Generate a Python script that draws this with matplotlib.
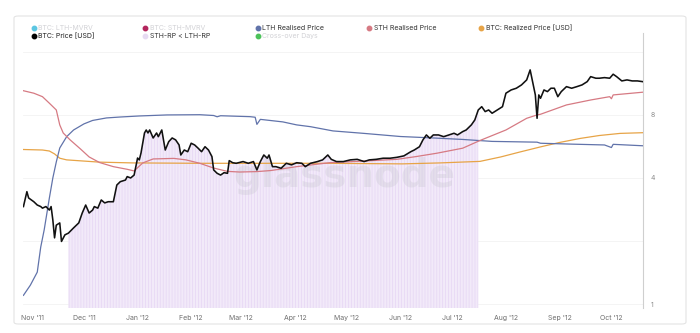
import matplotlib
matplotlib.use("Agg")
import matplotlib.pyplot as plt
from matplotlib.patches import FancyBboxPatch
from matplotlib.lines import Line2D
from matplotlib.ticker import FixedLocator, NullFormatter
import pandas as pd

# ---------------- data ----------------
price_dates = [
    "2011-10-27", "2011-10-29", "2011-10-30", "2011-11-02", "2011-11-04", "2011-11-06",
    "2011-11-07", "2011-11-09", "2011-11-11", "2011-11-12", "2011-11-13", "2011-11-14",
    "2011-11-15", "2011-11-17", "2011-11-18", "2011-11-20", "2011-11-22", "2011-11-25",
    "2011-11-28", "2011-11-30", "2011-12-02", "2011-12-04", "2011-12-06", "2011-12-07",
    "2011-12-09", "2011-12-11", "2011-12-13", "2011-12-15", "2011-12-18", "2011-12-20",
    "2011-12-22", "2011-12-25", "2011-12-26", "2011-12-28", "2011-12-30", "2012-01-01",
    "2012-01-02", "2012-01-03", "2012-01-05", "2012-01-06", "2012-01-07", "2012-01-08",
    "2012-01-10", "2012-01-12", "2012-01-13", "2012-01-15", "2012-01-16", "2012-01-17",
    "2012-01-19", "2012-01-21", "2012-01-23", "2012-01-25", "2012-01-26", "2012-01-28",
    "2012-01-30", "2012-02-01", "2012-02-03", "2012-02-05", "2012-02-07", "2012-02-09",
    "2012-02-11", "2012-02-13", "2012-02-14", "2012-02-16", "2012-02-18", "2012-02-20",
    "2012-02-22", "2012-02-23", "2012-02-25", "2012-02-27", "2012-03-02", "2012-03-05",
    "2012-03-08", "2012-03-10", "2012-03-12", "2012-03-14", "2012-03-16", "2012-03-17",
    "2012-03-19", "2012-03-21", "2012-03-24", "2012-03-27", "2012-03-30", "2012-04-02",
    "2012-04-05", "2012-04-07", "2012-04-10", "2012-04-14", "2012-04-17", "2012-04-20",
    "2012-04-22", "2012-04-25", "2012-04-29", "2012-05-03", "2012-05-07", "2012-05-11",
    "2012-05-14", "2012-05-18", "2012-05-22", "2012-05-26", "2012-05-30", "2012-06-03",
    "2012-06-07", "2012-06-09", "2012-06-12", "2012-06-14", "2012-06-16", "2012-06-18",
    "2012-06-20", "2012-06-23", "2012-06-26", "2012-06-29", "2012-07-02", "2012-07-04",
    "2012-07-07", "2012-07-09", "2012-07-12", "2012-07-14", "2012-07-16", "2012-07-18",
    "2012-07-20", "2012-07-22", "2012-07-24", "2012-07-27", "2012-07-30", "2012-08-01",
    "2012-08-04", "2012-08-07", "2012-08-10", "2012-08-13", "2012-08-14", "2012-08-15",
    "2012-08-16", "2012-08-18", "2012-08-19", "2012-08-20", "2012-08-21", "2012-08-23",
    "2012-08-25", "2012-08-27", "2012-08-29", "2012-08-31", "2012-09-02", "2012-09-05",
    "2012-09-08", "2012-09-11", "2012-09-14", "2012-09-17", "2012-09-19", "2012-09-22",
    "2012-09-24", "2012-09-27", "2012-09-30", "2012-10-02", "2012-10-04", "2012-10-07",
    "2012-10-10", "2012-10-13", "2012-10-16", "2012-10-19",
]
price_usd = [
    2.92, 3.44, 3.21, 3.08, 2.97, 2.92,
    2.87, 2.92, 2.81, 2.92, 2.52, 2.07,
    2.38, 2.44, 1.99, 2.14, 2.18, 2.31,
    2.44, 2.72, 2.97, 2.72, 2.81, 2.92,
    2.87, 3.14, 3.04, 3.08, 3.08, 3.70,
    3.84, 3.91, 4.06, 4.00, 4.13, 4.98,
    4.88, 5.27, 6.56, 6.78, 6.56, 6.78,
    6.21, 6.56, 6.30, 6.78, 6.08, 5.44,
    5.96, 6.21, 6.08, 5.75, 5.15, 5.44,
    5.34, 5.86, 5.75, 5.55, 5.34, 5.64,
    5.44, 5.06, 4.37, 4.21, 4.13, 4.24,
    4.21, 4.84, 4.73, 4.70, 4.79, 4.70,
    4.79, 4.37, 4.79, 5.15, 4.97, 5.15,
    4.53, 4.53, 4.45, 4.70, 4.62, 4.73,
    4.70, 4.53, 4.70, 4.79, 4.88, 5.15,
    4.91, 4.79, 4.79, 4.88, 4.91, 4.79,
    4.88, 4.91, 4.97, 4.97, 5.02, 5.10,
    5.34, 5.44, 5.64, 6.08, 6.42, 6.19,
    6.42, 6.42, 6.30, 6.42, 6.54, 6.42,
    6.66, 6.78, 7.17, 7.57, 8.45, 8.76,
    8.30, 8.45, 8.15, 8.45, 8.76, 10.16,
    10.53, 10.73, 11.13, 11.76, 12.42, 13.13,
    11.98, 9.97, 7.71, 9.97, 9.61, 10.53,
    10.34, 10.73, 10.73, 9.78, 10.34, 10.92,
    10.73, 10.92, 11.13, 11.54, 12.19, 11.98,
    11.98, 12.06, 11.98, 12.52, 12.19, 11.63,
    11.76, 11.63, 11.63, 11.54,
]

lth_dates = [
    "2011-10-27", "2011-10-31", "2011-11-04", "2011-11-06", "2011-11-08", "2011-11-11",
    "2011-11-13", "2011-11-15", "2011-11-17", "2011-11-21", "2011-11-25", "2011-12-01",
    "2011-12-06", "2011-12-14", "2011-12-22", "2012-01-02", "2012-01-18", "2012-02-06",
    "2012-02-14", "2012-02-16", "2012-02-18", "2012-03-06", "2012-03-09", "2012-03-10",
    "2012-03-12", "2012-03-25", "2012-04-02", "2012-04-10", "2012-04-23", "2012-05-11",
    "2012-06-01", "2012-06-20", "2012-07-07", "2012-07-24", "2012-08-19", "2012-08-21",
    "2012-09-09", "2012-09-27", "2012-10-01", "2012-10-02", "2012-10-19",
]
lth_realised_price = [
    1.10, 1.23, 1.42, 1.87, 2.26, 3.21,
    4.00, 4.77, 5.56, 6.30, 6.78, 7.25,
    7.53, 7.74, 7.82, 7.91, 8.00, 8.02,
    7.95, 7.84, 7.93, 7.85, 7.80, 7.21,
    7.62, 7.41, 7.17, 7.03, 6.71, 6.53,
    6.31, 6.21, 6.11, 5.98, 5.93, 5.86,
    5.80, 5.75, 5.59, 5.79, 5.70,
]

sth_dates = [
    "2011-10-27", "2011-11-02", "2011-11-07", "2011-11-11", "2011-11-15", "2011-11-17",
    "2011-11-19", "2011-11-23", "2011-11-29", "2011-12-04", "2011-12-10", "2011-12-18",
    "2011-12-26", "2011-12-30", "2012-01-04", "2012-01-10", "2012-01-22", "2012-01-29",
    "2012-02-06", "2012-02-14", "2012-02-22", "2012-02-29", "2012-03-10", "2012-03-18",
    "2012-04-02", "2012-04-21", "2012-05-11", "2012-05-30", "2012-06-10", "2012-06-22",
    "2012-07-07", "2012-07-17", "2012-08-01", "2012-08-13", "2012-08-19", "2012-08-21",
    "2012-09-05", "2012-09-19", "2012-09-30", "2012-10-01", "2012-10-02", "2012-10-19",
]
sth_realised_price = [
    10.44, 10.16, 9.78, 9.10, 8.45, 7.17,
    6.56, 6.08, 5.50, 5.04, 4.74, 4.53,
    4.40, 4.32, 4.72, 4.93, 4.96, 4.88,
    4.70, 4.46, 4.30, 4.27, 4.29, 4.34,
    4.53, 4.73, 4.82, 4.91, 5.06, 5.25,
    5.55, 6.04, 6.78, 7.71, 8.00, 8.06,
    8.93, 9.43, 9.78, 9.56, 9.97, 10.27,
]

rp_dates = [
    "2011-10-27", "2011-11-07", "2011-11-11", "2011-11-14", "2011-11-17", "2011-11-21",
    "2011-12-10", "2011-12-29", "2012-02-06", "2012-03-16", "2012-04-21", "2012-06-02",
    "2012-06-24", "2012-07-17", "2012-07-29", "2012-08-09", "2012-08-21", "2012-09-01",
    "2012-09-13", "2012-09-24", "2012-10-06", "2012-10-19",
]
realized_price = [
    5.47, 5.44, 5.38, 5.21, 4.97, 4.88,
    4.76, 4.72, 4.70, 4.70, 4.70, 4.67,
    4.72, 4.80, 5.04, 5.32, 5.63, 5.91,
    6.18, 6.38, 6.53, 6.58,
]

# period in which the STH realised price sits below the LTH realised price
sth_below_lth = ("2011-11-21", "2012-07-17")

month_ticks = [
    "2011-11-01", "2011-12-01", "2012-01-01", "2012-02-01", "2012-03-01", "2012-04-01",
    "2012-05-01", "2012-06-01", "2012-07-01", "2012-08-01", "2012-09-01", "2012-10-01",
]
month_labels = [
    "Nov '11", "Dec '11", "Jan '12", "Feb '12", "Mar '12", "Apr '12",
    "May '12", "Jun '12", "Jul '12", "Aug '12", "Sep '12", "Oct '12",
]
y_ticks = [1, 4, 8]
y_labels = ["1", "4", "8"]

# ---------------- styling ----------------
C_PRICE = "#111111"
C_LTH = "#6173aa"
C_STH = "#d67a83"
C_RP = "#e7a447"
C_FILL = "#e9dbf5"

plt.rcParams["font.family"] = ["Inter", "DejaVu Sans"]
plt.rcParams["hatch.linewidth"] = 0.3

W, H = 700, 333
fig = plt.figure(figsize=(W / 100, H / 100), dpi=100)
fig.patch.set_facecolor("white")


def fx(px):
    return px / W


def fy(py):
    return 1 - py / H


# card frame
card = FancyBboxPatch((fx(14), fy(324)), fx(686) - fx(14), fy(16) - fy(324),
                      boxstyle="round,pad=0,rounding_size=0.006",
                      transform=fig.transFigure, facecolor="white",
                      edgecolor="#e4e4e4", linewidth=0.8, zorder=-5)
fig.patches.append(card)

ax = fig.add_axes([fx(23), fy(308), fx(642.7) - fx(23), fy(33) - fy(308)])
ax.set_zorder(2)
ax.set_facecolor("none")

pdates = pd.to_datetime(price_dates)
price = pd.Series(price_usd, index=pdates)

ax.set_yscale("log", base=2)
ax.set_ylim(0.957, 19.7)
ax.set_xlim(pd.Timestamp("2011-10-26 18:00"), pd.Timestamp("2012-10-19 02:00"))

# STH-RP < LTH-RP bars (drawn up to the price)
win = price[(price.index >= sth_below_lth[0]) & (price.index <= sth_below_lth[1])]
ax.fill_between(win.index, 0.5, win.values, facecolor=C_FILL, edgecolor="white",
                hatch="|" * 11, linewidth=0, zorder=1)

# watermark
ax.text(0.518, 0.48, "glassnode", transform=ax.transAxes, ha="center", va="center",
        fontsize=28, fontweight="bold", family="DejaVu Sans",
        color="#c4c4cc", alpha=0.3, zorder=2)

ax.plot(pd.to_datetime(rp_dates), realized_price, color=C_RP, lw=0.9, zorder=3)
ax.plot(pd.to_datetime(lth_dates), lth_realised_price, color=C_LTH, lw=0.9, zorder=3)
ax.plot(pd.to_datetime(sth_dates), sth_realised_price, color=C_STH, lw=0.9, zorder=3)
ax.plot(pdates, price_usd, color=C_PRICE, lw=1.15, zorder=4)

# axes
ax.yaxis.tick_right()
ax.set_yticks(y_ticks)
ax.set_yticklabels(y_labels)
ax.yaxis.set_minor_locator(FixedLocator([2, 16]))
ax.yaxis.set_minor_formatter(NullFormatter())
ax.grid(axis="y", which="both", color="#f3f3f3", linewidth=0.6, zorder=0)
ax.set_axisbelow(True)
ax.tick_params(axis="y", which="both", length=0, pad=6, labelsize=5, labelcolor="#8a8a8a")

ax.set_xticks(pd.to_datetime(month_ticks))
ax.set_xticklabels(month_labels)
ax.tick_params(axis="x", length=0, pad=5, labelsize=5, labelcolor="#6f6f6f")

for side in ("top", "left", "bottom"):
    ax.spines[side].set_visible(False)
ax.spines["right"].set_color("#cfcfcf")
ax.spines["right"].set_linewidth(0.8)

# legend
legend_items = [
    (33.5, 27.6, "#5cc6e2", "BTC: LTH-MVRV", "#d2d2d6"),
    (145, 27.6, "#b3265d", "BTC: STH-MVRV", "#d2d2d6"),
    (258, 27.6, C_LTH, "LTH Realised Price", "#333333"),
    (369.5, 27.6, C_STH, "STH Realised Price", "#333333"),
    (481, 27.6, C_RP, "BTC: Realized Price [USD]", "#333333"),
    (33.5, 36.4, "#000000", "BTC: Price [USD]", "#222222"),
    (145, 36.4, "#e6daf2", "STH-RP < LTH-RP", "#333333"),
    (258, 36.4, "#4cc25a", "Cross-over Days", "#d2d2d6"),
]
for mx, my, mc, label, tc in legend_items:
    fig.add_artist(Line2D([fx(mx)], [fy(my)], marker="o", markersize=3.2,
                          markerfacecolor=mc, markeredgecolor=mc, linestyle="none",
                          transform=fig.transFigure))
    fig.text(fx(mx + 4.5), fy(my), label, ha="left", va="center",
             fontsize=5, color=tc)

fig.savefig("out.png", dpi=100, facecolor="white")
